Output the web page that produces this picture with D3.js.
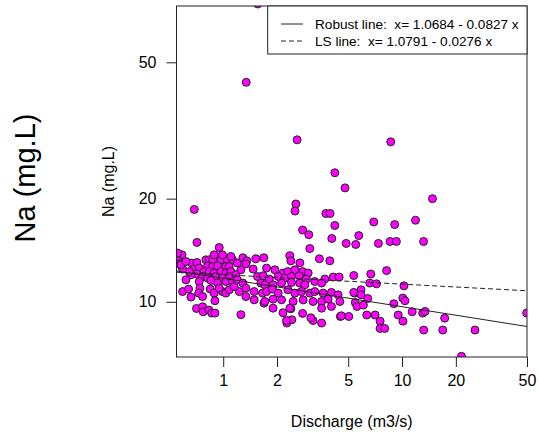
<!DOCTYPE html>
<html>
<head>
<meta charset="utf-8">
<script src="https://cdn.jsdelivr.net/npm/d3@7"></script>
<style>
  body { margin: 0; background: white; }
  text { font-family: "Liberation Sans", Arial, sans-serif; fill: black; }
</style>
</head>
<body>
<div id="chart"></div>
<script>
var width = 539;
var height = 435;
var plotLeft = 176.5, plotRight = 527, plotTop = 6, plotBottom = 357;

// discharge (m3/s) and Na (mg.L)
var discharge = [
  1.56, 1.345, 2.59, 8.65, 4.21, 4.80, 14.8, 0.689, 2.55, 2.52, 3.75, 3.96, 6.95, 9.1, 11.9,
  4.21, 2.78, 3.01, 5.73, 4.05, 0.713, 0.95, 4.87, 5.51, 7.38, 8.57, 9.3, 13.2, 3.05,
  0.588, 0.566, 1.288, 1.356, 1.523, 1.688, 2.358, 2.389, 2.683, 3.45, 3.946, 5.37, 6.687, 8.2,
  6.60, 7.2, 10.25, 5.44, 5.9, 6.43, 10.1, 10.38, 9.0, 5.48, 5.6, 6.08, 11.4, 13.05, 13.45,
  17.32, 49.8, 9.52, 10.12, 7.54, 7.54, 8.0, 13.22, 16.9, 25.6, 21.5, 7.07, 6.35, 5.04, 4.52,
  3.55, 3.18, 3.09, 2.78, 2.42, 2.27, 2.16, 2.39, 1.256, 0.709, 0.767, 0.773, 0.832, 0.862, 0.899,
  0.556, 0.566, 0.593, 0.666, 0.688, 0.713, 0.734, 0.709, 0.80, 0.835, 0.873, 0.971, 1.058, 1.128,
  0.818, 0.873, 0.93, 1.035, 1.08, 0.783, 0.835, 0.89, 0.971, 1.035, 1.104, 0.66, 0.767, 0.818,
  0.91, 0.99, 1.08, 1.178, 0.619, 0.734, 0.854, 0.93, 1.035, 1.128, 1.2, 0.593, 0.64, 0.741,
  0.729, 0.846, 0.89, 0.99, 1.035, 1.08, 1.23, 0.66, 0.767, 0.899, 1.339, 1.49, 1.339, 1.47,
  1.556, 1.624, 1.288, 1.339, 1.49, 1.66, 1.69,
  1.748, 1.945, 2.16, 2.30, 2.516, 2.78, 2.985, 1.673, 1.81, 2.03, 2.21, 2.41, 2.66, 2.92,
  3.25, 3.70, 4.12, 4.45, 1.71, 1.90, 2.12, 2.41, 2.68, 2.86, 3.55, 1.748, 1.885, 2.03, 2.30,
  2.516, 2.74, 3.05, 3.25, 3.62, 4.03, 4.39, 1.71, 1.90, 2.12, 2.46, 2.80, 3.18, 3.55, 3.86,
  4.49, 1.90, 2.36, 3.55, 4.03, 2.26, 5.37, 5.9, 4.58,
  0.556, 0.580, 0.619, 0.646, 0.89, 0.99, 1.104, 1.2, 1.256, 1.152, 0.95
];
var sodium = [
  74, 43.7, 29.7, 29.3, 23.8, 21.5, 20.0, 18.6, 19.3, 18.4, 18.1, 18.1, 17.1, 16.8, 17.3,
  16.7, 16.2, 15.7, 15.6, 15.3, 14.9, 14.4, 14.8, 14.7, 14.8, 15.0, 15.0, 15.0, 14.3,
  13.71, 13.17, 13.44, 13.17, 13.35, 13.44, 13.62, 13.17, 12.99, 13.35, 13.17, 11.93, 12.05, 12.33,
  11.34, 11.28, 11.13, 10.60, 10.84, 10.22, 10.25, 10.07, 9.87, 9.95, 9.69, 9.78, 9.35, 9.27, 9.37,
  8.96, 9.27, 9.15, 8.78, 8.78, 8.36, 8.36, 8.27, 8.27, 8.27, 6.93, 9.15, 9.15, 9.06, 9.06,
  8.67, 8.82, 8.98, 9.25, 8.86, 8.67, 9.29, 9.54, 9.17, 9.56, 9.67, 9.35, 9.46, 9.27, 9.27,
  13.19, 12.90, 12.46, 12.97, 12.46, 13.02, 12.54, 12.07, 13.26, 13.26, 13.26, 13.26, 13.2, 13.26,
  12.73, 12.67, 12.73, 12.67, 12.67, 12.25, 12.25, 12.13, 12.25, 12.13, 12.25, 11.99, 11.85, 11.73,
  11.85, 11.73, 11.85, 11.99, 11.59, 11.46, 11.54, 11.34, 11.46, 11.46, 11.59, 10.71, 10.89, 10.96,
  10.60, 10.89, 10.60, 10.71, 10.60, 10.84, 10.71, 10.32, 10.36, 10.07, 10.36, 10.13, 12.90, 12.46,
  11.85, 11.34, 11.34, 10.96, 10.71, 10.60, 9.91,
  12.54, 12.40, 12.13, 12.25, 12.40, 12.25, 12.13, 11.91, 11.65, 11.85, 11.73, 11.85, 11.91, 11.65,
  11.46, 11.65, 11.81, 11.81, 11.21, 11.21, 11.34, 11.39, 11.34, 11.21, 11.34, 10.71, 10.89, 10.60, 10.84,
  10.60, 10.71, 10.60, 10.71, 10.60, 10.65, 10.48, 10.02, 10.18, 10.13, 10.02, 10.13, 10.02, 10.02, 10.18,
  10.02, 9.58, 9.58, 9.58, 9.69, 8.82, 10.65, 10.48, 9.10,
  13.87, 12.82, 13.11, 12.25, 13.71, 13.71, 13.56, 12.97, 12.40, 11.08, 10.96
];

// fitted lines in log10 space: log10(Na) = a + b * log10(Q)
var fitNames = ["Robust line:  x= 1.0684 - 0.0827 x", "LS line:  x= 1.0791 - 0.0276 x"];
var fitIntercept = [1.0684, 1.0791];
var fitSlope = [-0.0827, -0.0276];
var fitDash = ["none", "5,3"];

var xTicks = [1, 2, 5, 10, 20, 50];
var yTicks = [10, 20, 50];

var svg = d3.select("#chart")
            .append("svg")
            .attr("width", width)
            .attr("height", height);

var x = d3.scaleLog().domain([0.548, 50]).range([plotLeft, plotRight]);
var y = d3.scaleLog().domain([6.9, 73]).range([plotBottom, plotTop]);

svg.append("clipPath")
    .attr("id", "plotclip")
    .append("rect")
    .attr("x", plotLeft)
    .attr("y", plotTop)
    .attr("width", plotRight - plotLeft)
    .attr("height", plotBottom - plotTop);

// points
var pts = discharge.map(function(d, i) { return { q: d, na: sodium[i] }; });
svg.append("g")
    .attr("clip-path", "url(#plotclip)")
    .selectAll("circle")
    .data(pts)
    .enter()
    .append("circle")
    .attr("cx", d => x(d.q))
    .attr("cy", d => y(d.na))
    .attr("r", 4)
    .attr("fill", "#ff00ff")
    .attr("stroke", "#222")
    .attr("stroke-width", 1);

// fitted lines across the whole x range
var lineGen = d3.line()
                .x(d => x(d.q))
                .y(d => y(d.na));
var ends = x.domain();
fitIntercept.forEach(function(a, i) {
    var seg = ends.map(function(q) {
        return { q: q, na: Math.pow(10, a + fitSlope[i] * Math.log10(q)) };
    });
    svg.append("path")
        .attr("clip-path", "url(#plotclip)")
        .attr("d", lineGen(seg))
        .attr("fill", "none")
        .attr("stroke", "#222")
        .attr("stroke-width", 1)
        .attr("stroke-dasharray", fitDash[i]);
});

// axes
var xAxis = d3.axisBottom(x).tickValues(xTicks).tickFormat(d3.format("d")).tickSize(10).tickPadding(8);
var gx = svg.append("g")
    .attr("transform", "translate(0," + plotBottom + ")")
    .call(xAxis);
gx.select(".domain").remove();
gx.selectAll("text").style("font-size", "16px").attr("font-family", null);

var yAxis = d3.axisLeft(y).tickValues(yTicks).tickFormat(d3.format("d")).tickSize(10).tickPadding(10);
var gy = svg.append("g")
    .attr("transform", "translate(" + plotLeft + ",0)")
    .call(yAxis);
gy.select(".domain").remove();
gy.selectAll("text").style("font-size", "16px").attr("font-family", null);
svg.selectAll(".tick line").attr("stroke", "#222");

// plot box
svg.append("rect")
    .attr("x", plotLeft)
    .attr("y", plotTop)
    .attr("width", plotRight - plotLeft)
    .attr("height", plotBottom - plotTop)
    .attr("fill", "none")
    .attr("stroke", "#222")
    .attr("stroke-width", 1);

// legend
var lg = svg.append("g");
lg.append("rect")
    .attr("x", 267.7)
    .attr("y", plotTop)
    .attr("width", plotRight - 267.7)
    .attr("height", 48)
    .attr("fill", "white")
    .attr("stroke", "#222")
    .attr("stroke-width", 1);
fitNames.forEach(function(name, i) {
    var ly = 24 + i * 17;
    lg.append("line")
        .attr("x1", 281).attr("x2", 303)
        .attr("y1", ly).attr("y2", ly)
        .attr("stroke", "#222")
        .attr("stroke-dasharray", fitDash[i]);
    lg.append("text")
        .attr("x", 315)
        .attr("y", ly)
        .attr("dy", "0.35em")
        .style("font-size", "13.6px")
        .style("white-space", "pre")
        .text(name);
});

// axis titles
svg.append("text")
    .attr("x", (plotLeft + plotRight) / 2)
    .attr("y", 427)
    .style("text-anchor", "middle")
    .style("font-size", "16px")
    .text("Discharge (m3/s)");

svg.append("text")
    .attr("transform", "translate(114," + (plotTop + plotBottom) / 2 + ") rotate(-90)")
    .style("text-anchor", "middle")
    .style("font-size", "16px")
    .text("Na (mg.L)");

svg.append("text")
    .attr("transform", "translate(35,178) rotate(-90)")
    .style("text-anchor", "middle")
    .style("font-size", "29px")
    .text("Na (mg.L)");
</script>
</body>
</html>
